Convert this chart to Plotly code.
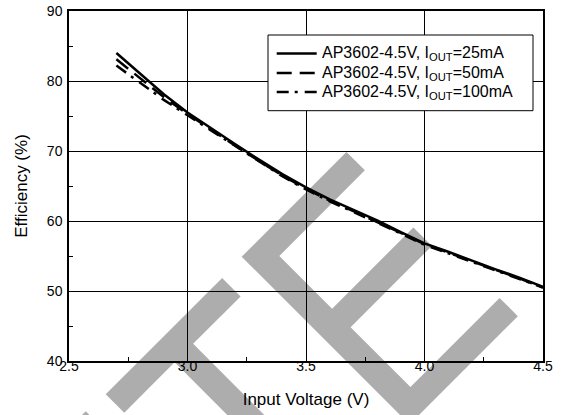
import plotly.graph_objects as go

# Efficiency vs input voltage, AP3602-4.5V at three load currents
voltage = [2.7, 2.8, 2.9, 3.0, 3.1, 3.2, 3.3, 3.4, 3.5, 3.6,
           3.7, 3.8, 3.9, 4.0, 4.1, 4.2, 4.3, 4.4, 4.5]
eff_25ma = [84.0, 81.0, 78.1, 75.5, 73.2, 71.0, 68.8, 66.7, 64.8, 63.1,
            61.6, 60.1, 58.4, 56.8, 55.6, 54.3, 53.1, 51.9, 50.6]
eff_50ma = [83.1, 80.4, 77.7, 75.3, 73.0, 70.8, 68.6, 66.5, 64.6, 62.9,
            61.4, 59.9, 58.3, 56.7, 55.5, 54.2, 53.0, 51.8, 50.5]
eff_100ma = [82.2, 79.7, 77.3, 75.1, 72.9, 70.7, 68.5, 66.4, 64.5, 62.8,
             61.3, 59.8, 58.2, 56.6, 55.4, 54.1, 52.9, 51.7, 50.5]

series_names = [
    "AP3602-4.5V, I<sub>OUT</sub>=25mA",
    "AP3602-4.5V, I<sub>OUT</sub>=50mA",
    "AP3602-4.5V, I<sub>OUT</sub>=100mA",
]
series_values = [eff_25ma, eff_50ma, eff_100ma]
series_dash = ["solid", "15px,8px", "12px,6px,3px,7px"]

x_range = [2.5, 4.5]
y_range = [40, 90]
x_tick_step = 0.5
y_tick_step = 10

FONT = "Liberation Sans, Arial, sans-serif"
W, H = 563, 415
L, R, T, B = 69, 543, 11, 361   # plot-area edges in page pixels


def to_paper(pts):
    """Page-pixel points -> paper coordinates."""
    return [((x - L) / (R - L), (B - y) / (B - T)) for x, y in pts]


def path_of(pts):
    p = to_paper(pts)
    return "M" + " L".join(f"{x:.4f},{y:.4f}" for x, y in p) + " Z"


def diag(s, d):
    """Point from the diagonal coordinates s = x + y, d = x - y."""
    return ((s + d) / 2, (s - d) / 2)


# Grey diagonal lettering behind the plot
stamp = [
    # partial letter at the lower-left corner
    [diag(497, -325.5), diag(497, -400), diag(540, -400), diag(540, -325.5)],
    # "T"
    [diag(500, -288.5), diag(500, -55.8), diag(537, -55.8), diag(537, -150.7),
     diag(900, -150.7), diag(900, -187.7), diag(537, -187.7), diag(537, -288.5)],
    # "E"
    [diag(498.4, -15), diag(498.4, 194.5), diag(535.2, 194.5), diag(535.2, 23.4),
     diag(640.8, 23.4), diag(640.8, 186), diag(677.8, 186), diag(677.8, 23.4),
     diag(797.5, 23.4), diag(797.5, 201.7), diag(834, 201.7), diag(834, -15)],
]

fig = go.Figure()

for name, vals, dash in zip(series_names, series_values, series_dash):
    fig.add_trace(go.Scatter(
        x=voltage, y=vals, mode="lines", name=name,
        line=dict(color="black", width=2.5, dash=dash),
        showlegend=False,
    ))

shapes = []
for poly in stamp:
    shapes.append(dict(type="path", xref="paper", yref="paper",
                       path=path_of(poly), fillcolor="#adadad",
                       line=dict(width=0), layer="below"))

# Legend box with line samples
box_l, box_r, box_t, box_b = 268, 533, 35, 110.7
(bx0, by0), (bx1, by1) = to_paper([(box_l, box_b), (box_r, box_t)])
shapes.append(dict(type="rect", xref="paper", yref="paper",
                   x0=bx0, y0=by0, x1=bx1, y1=by1,
                   fillcolor="white", line=dict(color="black", width=1),
                   layer="above"))
row_y = [53.5, 73, 92]
annotations = []
for name, dash, ry in zip(series_names, series_dash, row_y):
    (sx0, sy), (sx1, _) = to_paper([(276.7, ry), (316.7, ry)])
    shapes.append(dict(type="line", xref="paper", yref="paper",
                       x0=sx0, x1=sx1, y0=sy, y1=sy,
                       line=dict(color="black", width=2.5, dash=dash),
                       layer="above"))
    (tx, ty), = to_paper([(320, ry)])
    annotations.append(dict(x=tx, y=ty, xref="paper", yref="paper",
                            text=name, showarrow=False, xanchor="left",
                            yanchor="middle",
                            font=dict(family=FONT, size=16, color="black")))

axis_common = dict(
    showline=True, linecolor="black", linewidth=1.5, mirror=True,
    showgrid=True, gridcolor="black", gridwidth=1,
    ticks="inside", ticklen=4, tickcolor="black",
    tickfont=dict(family=FONT, size=14, color="black"),
    zeroline=False, automargin=False,
)

fig.update_layout(
    width=W, height=H,
    margin=dict(l=L, r=W - R, t=T, b=H - B, pad=0),
    paper_bgcolor="white", plot_bgcolor="white",
    showlegend=False,
    shapes=shapes, annotations=annotations,
    xaxis=dict(
        range=x_range, dtick=x_tick_step, tick0=x_range[0], tickformat=".1f",
        ticklabelstandoff=-9,
        minor=dict(dtick=x_tick_step / 2, ticks="inside", ticklen=4,
                   tickcolor="black", showgrid=False),
        title=dict(text="Input Voltage (V)", standoff=21,
                   font=dict(family=FONT, size=17, color="black")),
        **axis_common,
    ),
    yaxis=dict(
        range=y_range, dtick=y_tick_step, tick0=y_range[0],
        ticklabelstandoff=2,
        minor=dict(dtick=y_tick_step / 2, ticks="inside", ticklen=4,
                   tickcolor="black", showgrid=False),
        title=dict(text="Efficiency (%)", standoff=15,
                   font=dict(family=FONT, size=17, color="black")),
        **axis_common,
    ),
)

fig.write_html("out.html")
